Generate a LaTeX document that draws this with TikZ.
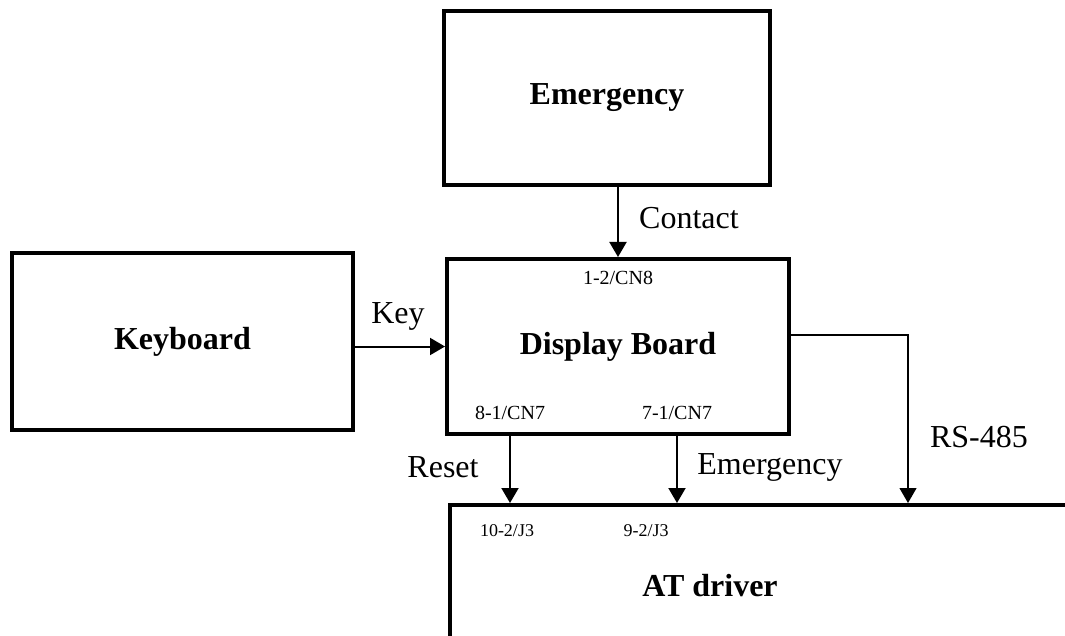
\documentclass[tikz,border=0pt]{standalone}
\usepackage{fontspec}
\setmainfont{Liberation Serif}
\usetikzlibrary{arrows.meta, positioning}

\tikzset{
    block/.style={draw, line width=2pt, inner sep=0pt},
    title/.style={font=\fontsize{16}{19}\selectfont\bfseries},
    sig/.style={font=\fontsize{16}{19}\selectfont},
    pin/.style={font=\fontsize{10}{12}\selectfont, inner sep=1pt},
    arr/.style={-{Triangle[length=7.5pt,width=8.5pt]}, line width=1pt},
}

\begin{document}
\begin{tikzpicture}[x=0.5pt, y=-0.5pt]
    \useasboundingbox (0,0) rectangle (1065,636);
    \clip (0,0) rectangle (1065,636);

    % blocks
    \node[block, title, minimum width=163pt, minimum height=87pt] (emerg) at (607,98) {Emergency};
    \node[block, title, minimum width=171pt, minimum height=87.5pt] (disp) at (618,346.5) {Display Board};
    \node[block, title, minimum width=170.5pt, minimum height=88.5pt] (kbd) at (182.5,341.5) {Keyboard};
    \node[block, anchor=north west, minimum width=350pt, minimum height=100pt] (driver) at (448,503) {};
    \node[title] (drvname) at (710,586) {AT driver};

    % pins
    \node[pin] (cn8) at (618,278) {1-2/CN8};
    \node[pin] (cn7a) at (510,413) {8-1/CN7};
    \node[pin] (cn7b) at (677,413) {7-1/CN7};
    \node[pin, font=\fontsize{9}{11}\selectfont] (j3a) at (507,531) {10-2/J3};
    \node[pin, font=\fontsize{9}{11}\selectfont] (j3b) at (646,531) {9-2/J3};

    % signals
    \draw[arr] (emerg.south -| cn8) -- (disp.north -| cn8);
    \node[sig] (contact) at (689,218) {Contact};

    \draw[arr] (kbd.east |- disp.west) -- (disp.west);
    \node[sig] (key) at (398,316) {Key};

    \draw[arr] (disp.south -| cn7a) -- (driver.north -| cn7a);
    \node[sig] (reset) at (443,467) {Reset};

    \draw[arr] (disp.south -| cn7b) -- (driver.north -| cn7b);
    \node[sig] (emsig) at (770,467) {Emergency};

    \coordinate (bend) at (908,335);
    \draw[arr, line width=0.6pt] (disp.east |- bend) -- (bend) -- (bend |- driver.north);
    \node[sig] (rs) at (979,437) {RS-485};
\end{tikzpicture}
\end{document}
